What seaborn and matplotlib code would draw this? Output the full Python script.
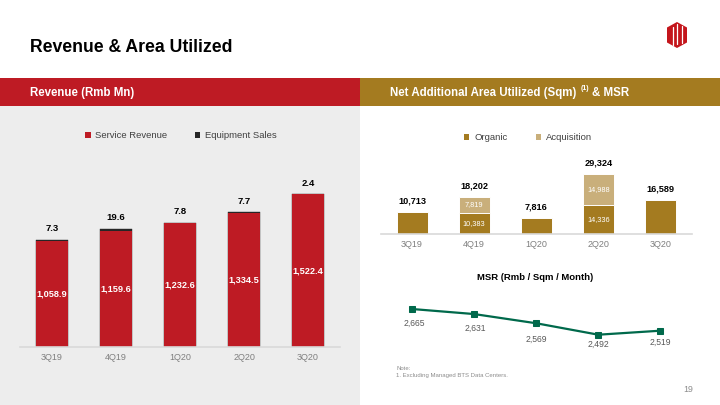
import numpy as np
import pandas as pd
import matplotlib
matplotlib.use("Agg")
import matplotlib.pyplot as plt
import seaborn as sns
from matplotlib.patches import Rectangle, Polygon, Patch
from matplotlib.lines import Line2D

# ---------------- data ----------------
quarters = ["3Q19", "4Q19", "1Q20", "2Q20", "3Q20"]
service_revenue = [1058.9, 1159.6, 1232.6, 1334.5, 1522.4]
equipment_sales = [7.3, 19.6, 7.8, 7.7, 2.4]

organic = [10713, 10383, 7816, 14336, 16589]
acquisition = [0, 7819, 0, 14988, 0]
area_total = [10713, 18202, 7816, 29324, 16589]

msr = [2665, 2631, 2569, 2492, 2519]

# ---------------- style ----------------
sns.set_theme(style="white")
plt.rcParams["font.family"] = ["Liberation Sans", "DejaVu Sans"]

RED = "#BE1B24"
GOLD = "#A47B20"
ACQ = "#C9AF7B"
GREEN = "#00694B"
EQUIP = "#262626"
PANEL = "#EDEDED"
TICK = "#7F7F7F"
LEG = "#404040"

W, H = 720, 405
fig = plt.figure(figsize=(7.2, 4.05), dpi=100)
fig.patch.set_facecolor("white")


def fx(px):
    return px / W


def fy(py):
    return 1 - py / H


def rect(x0, y0, x1, y1, color):
    fig.patches.append(Rectangle((fx(x0), fy(y1)), fx(x1) - fx(x0), fy(y0) - fy(y1),
                                 transform=fig.transFigure, facecolor=color,
                                 edgecolor="none", zorder=-10))


# backgrounds / banners
rect(0, 106, 360, 405, PANEL)
rect(0, 78, 360, 106, RED)
rect(360, 78, 720, 106, GOLD)

# title
fig.text(fx(30), fy(48), "Revenue & Area Utilized", fontsize=12.7, fontweight="bold",
         color="black", ha="left", va="center")

# logo (simplified)
hexv = [(677, 22), (687, 27.5), (687, 42.5), (677, 48), (667, 42.5), (667, 27.5)]
fig.patches.append(Polygon([(fx(a), fy(b)) for a, b in hexv], closed=True,
                           transform=fig.transFigure, facecolor="#C4161C",
                           edgecolor="none", zorder=2))
for xa, y0, y1 in [(672.5, 27, 45), (676.5, 24, 44), (681.5, 26, 43)]:
    fig.lines.append(Line2D([fx(xa), fx(xa)], [fy(y0), fy(y1)], transform=fig.transFigure,
                            color="white", lw=0.9, zorder=3))

# banner texts
fig.text(fx(30), fy(93), "Revenue (Rmb Mn)", fontsize=8.3, fontweight="bold",
         color="white", ha="left", va="center")
t1 = fig.text(fx(390), fy(93), "Net Additional Area Utilized (Sqm)", fontsize=8.3,
              fontweight="bold", color="white", ha="left", va="center")
fig.canvas.draw()
r = fig.canvas.get_renderer()
bb = t1.get_window_extent(r)
x_end = bb.x1  # pixels
t2 = fig.text((x_end + 4) / W, fy(89), "(1)", fontsize=5, fontweight="bold",
              color="white", ha="left", va="center")
bb2 = t2.get_window_extent(r)
fig.text((bb2.x1 + 3) / W, fy(93), "& MSR", fontsize=8.3, fontweight="bold",
         color="white", ha="left", va="center")

# ---------------- left: revenue ----------------
base_l = 346.7
top_l = 110
scale_l = 0.1  # px per unit
axL = fig.add_axes([fx(20), fy(base_l), fx(340) - fx(20), (base_l - top_l) / H])
axL.set_facecolor("none")
rev_df = pd.DataFrame({"quarter": quarters,
                       "service": service_revenue,
                       "equipment": equipment_sales})
rev_df["total"] = rev_df["service"] + rev_df["equipment"]
sns.barplot(data=rev_df, x="quarter", y="total", color=EQUIP, width=0.5,
            saturation=1, errorbar=None, ax=axL, edgecolor=EQUIP, linewidth=0.3)
sns.barplot(data=rev_df, x="quarter", y="service", color=RED, width=0.5,
            saturation=1, errorbar=None, ax=axL, linewidth=0)
axL.set_ylim(0, (base_l - top_l) / scale_l)
axL.set_xlim(-0.5, 4.5)
for i, (s, e) in enumerate(zip(service_revenue, equipment_sales)):
    axL.text(i, s / 2, f"{s:,.1f}", color="white", fontsize=6.6, fontweight="bold",
             ha="center", va="center")
    axL.annotate(f"{e:.1f}", (i, s + e), xytext=(0, 8), textcoords="offset points",
                 ha="center", va="center", fontsize=6.8, fontweight="bold", color="black")
axL.set_xlabel("")
axL.set_ylabel("")
axL.set_yticks([])
for sp in ["top", "left", "right"]:
    axL.spines[sp].set_visible(False)
axL.spines["bottom"].set_color("#D9D9D9")
axL.spines["bottom"].set_linewidth(1.2)
axL.tick_params(axis="x", length=0, pad=4.6, labelsize=6.5, labelcolor=TICK)
axL.legend(handles=[Patch(facecolor=RED, edgecolor="none", label="Service Revenue"),
                    Patch(facecolor=EQUIP, edgecolor="none", label="Equipment Sales")],
           loc="center", bbox_to_anchor=(fx(181), fy(136)),
           bbox_transform=fig.transFigure, ncol=2, frameon=False, fontsize=6.8,
           handlelength=0.55, handleheight=0.55, handletextpad=0.5,
           columnspacing=2.9, labelcolor=LEG)

# ---------------- right top: area ----------------
base_r = 234
top_r = 150
scale_r = 0.00203
axR = fig.add_axes([fx(381), fy(base_r), fx(691.5) - fx(381), (base_r - top_r) / H])
axR.set_facecolor("none")
area_df = pd.DataFrame({"quarter": quarters, "organic": organic,
                        "acquisition": acquisition, "total": area_total})
sns.barplot(data=area_df, x="quarter", y="total", color=ACQ, width=0.5, saturation=1,
            errorbar=None, ax=axR, edgecolor="white", linewidth=0.7)
sns.barplot(data=area_df, x="quarter", y="organic", color=GOLD, width=0.5, saturation=1,
            errorbar=None, ax=axR, edgecolor="white", linewidth=0.7)
axR.set_ylim(0, (base_r - top_r) / scale_r)
axR.set_xlim(-0.5, 4.5)
for i, (o, a, t) in enumerate(zip(organic, acquisition, area_total)):
    axR.annotate(f"{t:,}", (i, t), xytext=(0, 8), textcoords="offset points",
                 ha="center", va="center", fontsize=6.6, fontweight="bold", color="black")
    if a > 0:
        axR.text(i, o / 2, f"{o:,}", color="white", fontsize=5.3, ha="center", va="center")
        axR.text(i, o + a / 2, f"{a:,}", color="white", fontsize=5.3, ha="center", va="center")
axR.set_xlabel("")
axR.set_ylabel("")
axR.set_yticks([])
for sp in ["top", "left", "right"]:
    axR.spines[sp].set_visible(False)
axR.spines["bottom"].set_color("#D9D9D9")
axR.spines["bottom"].set_linewidth(1.2)
axR.tick_params(axis="x", length=0, pad=4.6, labelsize=6.5, labelcolor=TICK)
axR.legend(handles=[Patch(facecolor=GOLD, edgecolor="none", label="Organic"),
                    Patch(facecolor=ACQ, edgecolor="none", label="Acquisition")],
           loc="center", bbox_to_anchor=(fx(528), fy(137.7)),
           bbox_transform=fig.transFigure, ncol=2, frameon=False, fontsize=6.8,
           handlelength=0.55, handleheight=0.55, handletextpad=0.5,
           columnspacing=3.0, labelcolor=LEG)

# ---------------- right bottom: MSR ----------------
axM = fig.add_axes([fx(381), fy(350), fx(691.5) - fx(381), 60 / H])
axM.set_facecolor("none")
msr_df = pd.DataFrame({"pos": np.arange(len(quarters)), "msr": msr})
sns.lineplot(data=msr_df, x="pos", y="msr", color=GREEN, marker="s", markersize=4.6,
             markeredgecolor=GREEN, linewidth=1.6, ax=axM)
axM.set_xlim(-0.5, 4.5)
axM.set_ylim(2389, 2793)
axM.axis("off")
lab_dy = [14.7, 14.6, 16.3, 9.5, 11.7]
lab_dx = [2, 1, 0, 0, 0]
for i, v in enumerate(msr):
    axM.annotate(f"{v:,}", (i, v), xytext=(lab_dx[i] * 0.72, -lab_dy[i] * 0.72),
                 textcoords="offset points", ha="center", va="center",
                 fontsize=6.2, color="#595959")
fig.text(fx(535), fy(277.5), "MSR (Rmb / Sqm / Month)", fontsize=6.8, fontweight="bold",
         color="black", ha="center", va="center")

# notes / page
fig.text(fx(396), fy(368.5), "Note:", fontsize=4.3, color="#8C8C8C", ha="left", va="center")
fig.text(fx(396), fy(375.5), "1. Excluding Managed BTS Data Centers.", fontsize=4.3,
         color="#8C8C8C", ha="left", va="center")
fig.text(fx(688), fy(389), "19", fontsize=6.3, color="#8C8C8C", ha="center", va="center")

fig.savefig("out.png", dpi=100, facecolor="white")
